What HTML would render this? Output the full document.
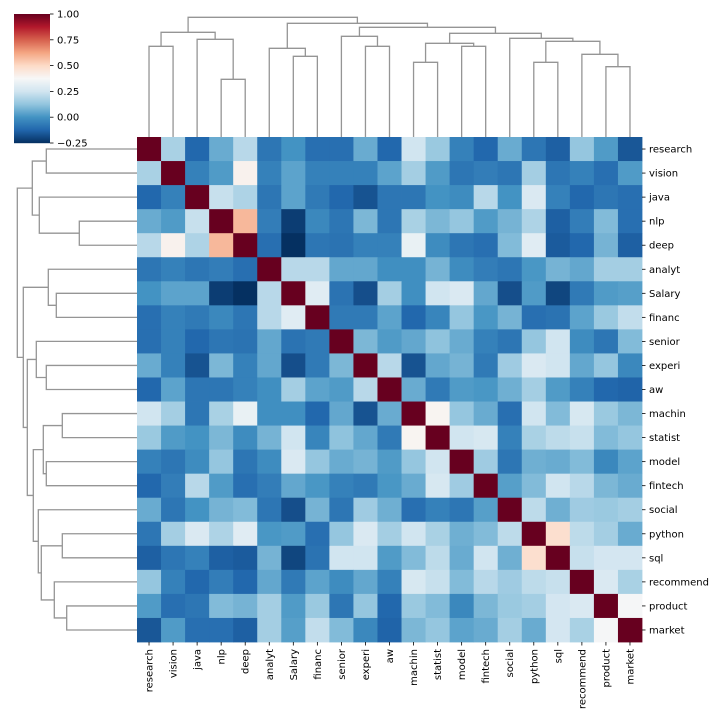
<!DOCTYPE html>
<html><head><meta charset="utf-8"><style>
html,body{margin:0;padding:0;background:#fff;}
svg{display:block;font-family:"DejaVu Sans","Liberation Sans",sans-serif;}
</style></head><body>
<svg id="chart" width="720" height="720" viewBox="0 0 720 720"></svg>
<script>
const labels = ["research","vision","java","nlp","deep","analyt","Salary","financ","senior","experi","aw","machin","statist","model","fintech","social","python","sql","recommend","product","market"];
// upper triangle rows (value from column i..20)
const upper = [
[1,0.17,-0.12,0.06,0.2,-0.08,0.0,-0.1,-0.1,0.06,-0.12,0.25,0.14,-0.05,-0.12,0.06,-0.08,-0.14,0.13,0.02,-0.16],
[1,-0.05,0.02,0.4,-0.05,0.04,-0.05,-0.05,-0.05,0.04,0.16,0.02,-0.08,-0.06,-0.08,0.16,-0.08,-0.05,-0.1,0.02],
[1,0.23,0.18,-0.08,0.04,-0.07,-0.12,-0.17,-0.08,-0.08,0.0,-0.02,0.2,0.0,0.28,-0.05,-0.12,-0.08,-0.1],
[1,0.58,-0.06,-0.22,-0.03,-0.08,0.09,-0.08,0.17,0.09,0.13,0.02,0.08,0.18,-0.14,-0.06,0.1,-0.1],
[1,-0.1,-0.25,-0.08,-0.09,-0.05,-0.05,0.33,-0.02,-0.08,-0.1,0.1,0.3,-0.15,-0.12,0.08,-0.14],
[1,0.2,0.2,0.05,0.05,-0.01,-0.01,0.08,-0.02,-0.06,-0.08,0.01,0.08,0.05,0.16,0.16],
[1,0.3,-0.09,-0.18,0.16,-0.01,0.25,0.28,0.05,-0.18,0.02,-0.2,-0.07,0.02,0.03],
[1,-0.07,-0.07,0.04,-0.12,-0.04,0.13,0.01,0.08,-0.1,-0.09,0.04,0.14,0.22],
[1,0.09,0.02,0.05,0.12,0.06,-0.05,-0.08,0.13,0.25,-0.02,-0.08,0.1],
[1,0.2,-0.17,0.05,0.08,-0.07,0.15,0.28,0.25,0.05,0.13,-0.03],
[1,0.06,-0.07,0.02,0.01,0.07,0.16,0.02,-0.05,-0.12,-0.13],
[1,0.39,0.13,0.06,-0.1,0.25,0.1,0.27,0.14,0.09],
[1,0.25,0.27,-0.05,0.17,0.21,0.23,0.1,0.13],
[1,0.15,-0.08,0.07,0.06,0.1,-0.03,0.04],
[1,0.03,0.1,0.25,0.2,0.09,0.06],
[1,0.21,0.07,0.15,0.14,0.16],
[1,0.48,0.21,0.16,0.06],
[1,0.23,0.26,0.26],
[1,0.28,0.17],
[1,0.37],
[1]
];
// linkage: [childA, childB, distance]; leaves 0..20, new nodes 21..
const merges = [
[0,1,90.7],[3,4,57.7],[2,22,97.7],[21,23,104.7],
[6,7,80.7],[5,25,88.7],[9,10,90.7],[8,27,100.7],
[11,12,74.7],[13,14,90.7],[29,30,93.7],[16,17,74.7],
[19,20,70.3],[18,33,82.7],[32,34,95.7],[15,35,98.7],
[31,36,103.7],[28,37,109.7],[26,38,113.7],[24,39,119.7]
];
const ticks = [-0.25,0,0.25,0.5,0.75,1];
const tickLabels = ["\u22120.25","0.00","0.25","0.50","0.75","1.00"];

const NS="http://www.w3.org/2000/svg";
const svg=document.getElementById('chart');
function mk(t,a,p){const e=document.createElementNS(NS,t);for(const k in a)e.setAttribute(k,a[k]);(p||svg).appendChild(e);return e;}
const stops=["#053061","#2166ac","#4393c3","#92c5de","#d1e5f0","#f7f7f7","#fddbc7","#f4a582","#d6604d","#b2182b","#67001f"];
const vmin=-0.25,vmax=1;
function hx(h){return [1,3,5].map(i=>parseInt(h.substr(i,2),16));}
function cmap(v){let t=(v-vmin)/(vmax-vmin);t=Math.max(0,Math.min(1,t));const s=t*10,i=Math.min(9,Math.floor(s)),f=s-i;const a=hx(stops[i]),b=hx(stops[i+1]);return "rgb("+a.map((x,k)=>Math.round(x+(b[k]-x)*f)).join(",")+")";}
const n=labels.length,X0=137,Y0=137,W=505,cw=W/n;
function val(r,c){return r<=c?upper[r][c-r]:upper[c][r-c];}
const hm=mk('g',{});


for(let r=0;r<n;r++)for(let c=0;c<n;c++){
 const rc=mk('rect',{x:X0+c*cw,y:Y0+r*cw,width:cw+0.4,height:cw+0.4,fill:cmap(val(r,c))},hm);
 
 
}
// labels
for(let i=0;i<n;i++){
 const cy=Y0+(i+0.5)*cw;
 mk('line',{x1:X0+W,y1:cy,x2:X0+W+3.5,y2:cy,stroke:'#000','stroke-width':0.8});
 const t=mk('text',{x:X0+W+7,y:cy+3.5,'font-size':10,fill:'#000'});t.textContent=labels[i];
 
 
 const cx=X0+(i+0.5)*cw;
 mk('line',{x1:cx,y1:Y0+W,x2:cx,y2:Y0+W+3.5,stroke:'#000','stroke-width':0.8});
 const t2=mk('text',{x:0,y:0,'font-size':10,fill:'#000','text-anchor':'end',transform:'translate('+(cx+3.5)+','+(Y0+W+7)+') rotate(-90)'});t2.textContent=labels[i];
 
 
}
// dendrograms
const pos={},ht={};
for(let i=0;i<n;i++){pos[i]=X0+(i+0.5)*cw;ht[i]=0;}
const dmax=125,dpx=125;
function dp(d){return d/dmax*dpx;}
const gt=mk('g',{fill:'none',stroke:'#959595','stroke-width':1.3});


const gl=mk('g',{fill:'none',stroke:'#959595','stroke-width':1.3});


merges.forEach((m,k)=>{
 const id=n+k,a=m[0],b=m[1],d=m[2];
 const pa=pos[a]-X0+Y0, pb=pos[b]-X0+Y0;
 const ya=Y0-dp(ht[a]),yb=Y0-dp(ht[b]),yd=Y0-dp(d);
 mk('path',{d:`M${pos[a]},${ya}V${yd}H${pos[b]}V${yb}`},gt);
 const xa=X0-dp(ht[a]),xb=X0-dp(ht[b]),xd=X0-dp(d);
 mk('path',{d:`M${xa},${pa}H${xd}V${pb}H${xb}`},gl);
 pos[id]=(pos[a]+pos[b])/2;ht[id]=d;
});
// colorbar
const cb=mk('g',{});


const cbx=14,cby=14,cbw=36,cbh=129;
for(let i=0;i<cbh;i++){const v=vmax-(i+0.5)/cbh*(vmax-vmin);mk('rect',{x:cbx,y:cby+i,width:cbw,height:1.2,fill:cmap(v)},cb);}
ticks.forEach((tv,i)=>{
 const y=cby+(vmax-tv)/(vmax-vmin)*cbh;
 mk('line',{x1:cbx+cbw,y1:y,x2:cbx+cbw+3.5,y2:y,stroke:'#000','stroke-width':0.8},cb);
 const t=mk('text',{x:cbx+cbw+7,y:y+3.5,'font-size':10,fill:'#000'},cb);t.textContent=tickLabels[i];
 
 
});
</script>
</body></html>
